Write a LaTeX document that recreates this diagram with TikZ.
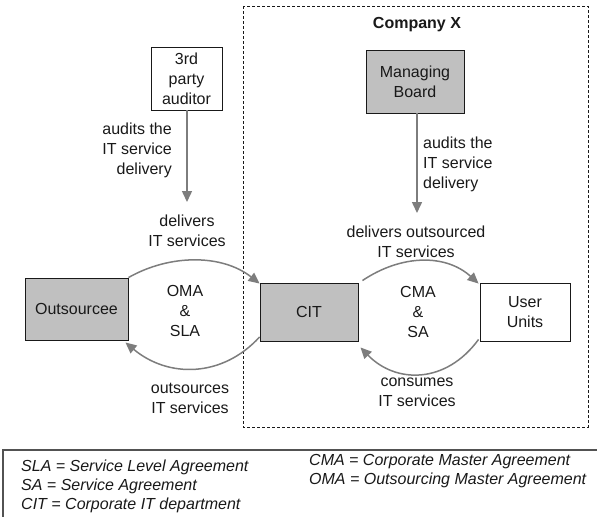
\documentclass[tikz,border=0pt]{standalone}
\usepackage{fontspec}
\setmainfont{Liberation Sans}
\usetikzlibrary{arrows.meta,calc}
\definecolor{boxgray}{RGB}{192,192,192}
\definecolor{flowgray}{RGB}{125,125,125}
\definecolor{inkc}{RGB}{25,25,25}
\begin{document}
\begin{tikzpicture}[x=1pt,y=-1pt,
  every node/.style={inner sep=0pt,text=inkc,font=\fontsize{16}{20}\selectfont},
  actor/.style={draw=inkc,line width=0.9pt,align=center},
  shaded/.style={actor,fill=boxgray},
  plain/.style={actor,fill=white},
  flow/.style={draw=flowgray,line width=1.5pt,-{Triangle[length=11pt,width=10pt]}},
  lbl/.style={align=center}]
\useasboundingbox (0,0) rectangle (597,517);

% company boundary
\draw[inkc,line width=0.8pt,dash pattern=on 3pt off 2pt] (243,6) rectangle (588,427);
\node[font=\bfseries\fontsize{16}{20}\selectfont] (company) at (417,25) {Company X};

% parties
\node[plain,minimum width=71pt,minimum height=63pt] (aud) at (186.5,78.5) {3rd\\party\\auditor};
\node[shaded,minimum width=98pt,minimum height=63pt] (mb) at (415,81.5) {Managing\\Board};
\node[shaded,minimum width=103pt,minimum height=62pt] (outs) at (76.5,309) {Outsourcee};
\node[shaded,minimum width=98pt,minimum height=58pt] (cit) at (309,312) {CIT};
\node[plain,minimum width=90pt,minimum height=58pt] (uu) at (525,312) {User\\Units};

% audit arrows
\coordinate (audend) at (187,202);
\coordinate (mbend) at (417,213);
\draw[flow] (aud.south -| audend) -- (audend);
\draw[flow] (mb.south -| mbend) -- (mbend);
\node[anchor=east,align=right] (audlbl) at (172,150) {audits the\\IT service\\delivery};
\node[anchor=west,align=left] (mblbl) at (423,164) {audits the\\IT service\\delivery};

% service flows
\draw[flow] (outs.north east) .. controls (170,254) and (222,254) .. ($(cit.north west)+(0,1)$);
\draw[flow] ($(cit.west)+(0,25)$) .. controls (222,378) and (168,378) .. ($(outs.south east)+(-3,2)$);
\draw[flow] ($(cit.north east)+(4,-2)$) .. controls (402,254) and (446,254) .. ($(uu.north west)+(-1,1)$);
\draw[flow] ($(uu.south west)+(-1,-2)$) .. controls (446,384) and (396,384) .. ($(cit.south east)+(2,6)$);

\node[lbl] (dlv) at (187,231) {delivers\\IT services};
\node[lbl] (oma) at (185,311) {OMA\\\&\\SLA};
\node[lbl] (outl) at (190,398) {outsources\\IT services};
\node[lbl] (dlvo) at (416,242) {delivers outsourced\\IT services};
\node[lbl] (cma) at (418,312) {CMA\\\&\\SA};
\node[lbl] (cons) at (417,392) {consumes\\IT services};

% legend
\draw[draw=inkc!75,line width=1.3pt] (597,450) -- (3,450) -- (3,517);
\node[anchor=west,align=left,font=\itshape\fontsize{16}{19}\selectfont] (legl) at (21,486) {SLA = Service Level Agreement\\SA = Service Agreement\\CIT = Corporate IT department};
\node[anchor=west,align=left,font=\itshape\fontsize{16}{19}\selectfont] (legr) at (309,471) {CMA = Corporate Master Agreement\\OMA = Outsourcing Master Agreement};
\end{tikzpicture}
\end{document}
